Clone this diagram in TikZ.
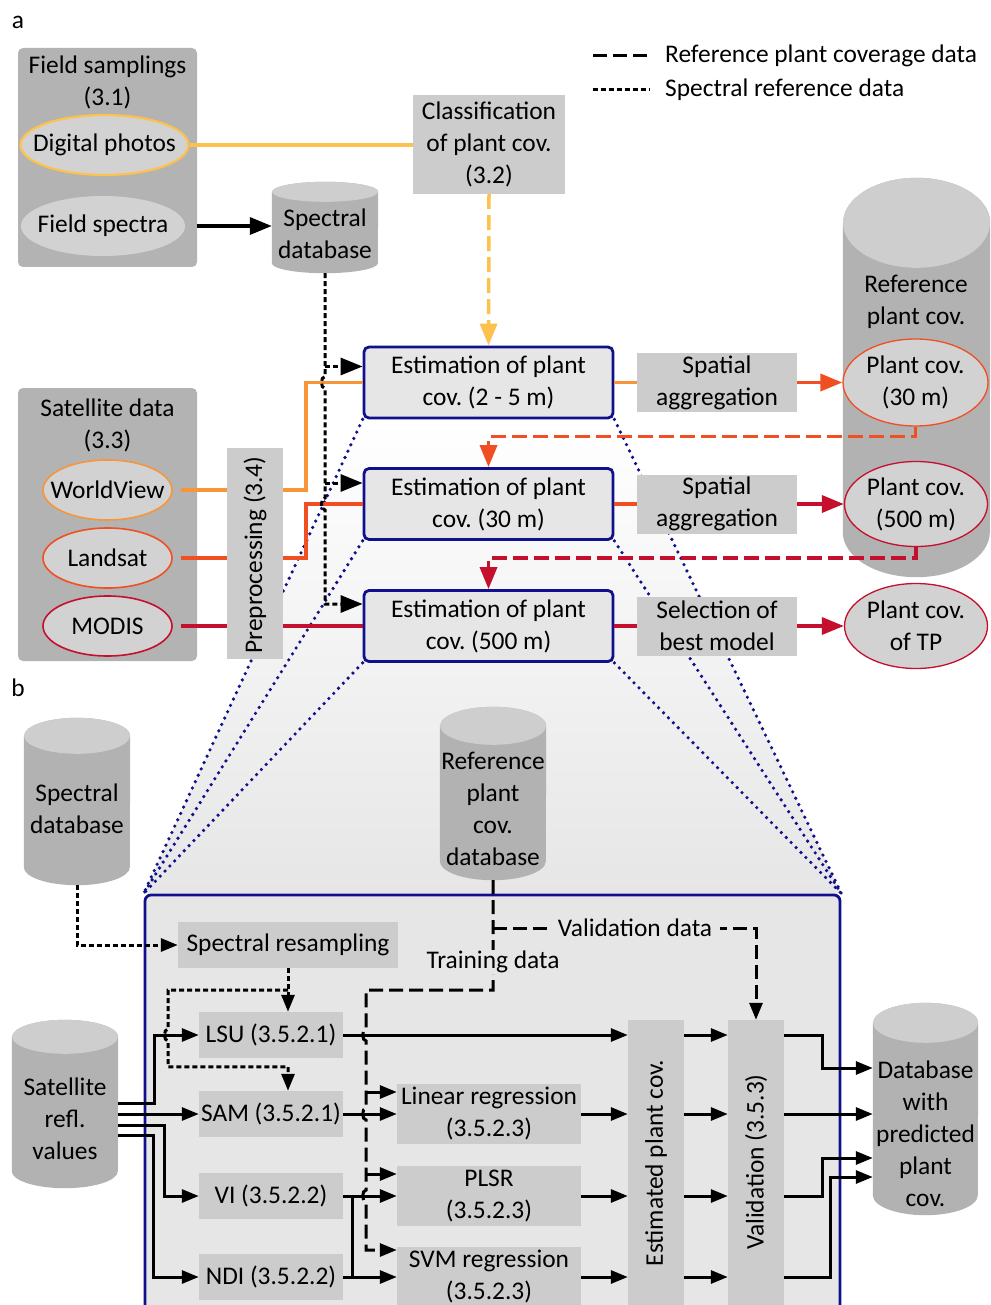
\documentclass[tikz,border=0pt]{standalone}
\usepackage{fontspec}
\setmainfont{Carlito}
\usetikzlibrary{arrows.meta,calc,shapes.geometric,backgrounds}
\frenchspacing

\definecolor{navy}{RGB}{16,16,140}
\definecolor{darkpanel}{RGB}{179,179,179}
\definecolor{lightbox}{RGB}{204,204,204}
\definecolor{ellfill}{RGB}{210,210,210}
\definecolor{estfill}{RGB}{230,230,230}
\definecolor{cylbody}{RGB}{178,178,178}
\definecolor{cyltop}{RGB}{206,206,206}
\definecolor{cyel}{RGB}{253,194,78}
\definecolor{corange}{RGB}{247,149,59}
\definecolor{cred}{RGB}{240,78,35}
\definecolor{ccrim}{RGB}{196,16,46}

\tikzset{
  txt/.style={inner sep=0pt, align=center},
  panel/.style={fill=darkpanel, rounded corners=5pt, inner sep=0pt},
  lbox/.style={fill=lightbox, inner sep=0pt, align=center},
  ebox/.style={draw=navy, line width=2.8pt, fill=estfill, rounded corners=5pt,
    minimum width=249pt, minimum height=71pt, inner sep=0pt, align=center},
  sat/.style={ellipse, fill=ellfill, line width=1.6pt, inner sep=-20pt, align=center},
  cylnode/.style={inner sep=0pt},
  blk/.style={draw=black, line width=3pt},
  refline/.style={draw=black, line width=3pt, dash pattern=on 14pt off 6pt},
  specline/.style={draw=black, line width=3pt, dash pattern=on 5pt off 3pt},
  ylw/.style={draw=cyel, line width=3.5pt},
  orl/.style={draw=corange, line width=3.5pt},
  rdl/.style={draw=cred, line width=3.5pt},
  crl/.style={draw=ccrim, line width=3.5pt},
  cdash/.style={dash pattern=on 15pt off 6pt},
  zoomline/.style={draw=navy, line width=3.6pt, line cap=round, dash pattern=on 0pt off 7pt},
  arr/.style={-{Triangle[length=17pt,width=13pt]}},
  bigarr/.style={-{Triangle[length=22pt,width=17pt]}},
}

% cylinder drawn round a named node: name, x radius, y radius
\newcommand{\dbcyl}[3]{%
  \fill[cylbody] ([yshift=-#3]#1.north west) -- ([yshift=#3]#1.south west)
    arc[start angle=180, end angle=360, x radius=#2, y radius=#3]
    -- ([yshift=-#3]#1.north east)
    arc[start angle=0, end angle=180, x radius=#2, y radius=#3] -- cycle;
  \fill[cyltop] ([yshift=-#3]#1.north) ellipse[x radius=#2, y radius=#3];
}

\begin{document}
\begin{tikzpicture}[x=1pt, y=-1pt, font=\fontsize{25.4}{32}\selectfont]
\useasboundingbox (0,0) rectangle (990,1305);
\clip (0,0) rectangle (990,1305);

\node[txt] (la) at (18,22) {a};
\node[txt] (lb) at (18,688) {b};

% legend
\node[txt, anchor=west] (leg1) at (665,56) {Reference plant coverage data};
\node[txt, anchor=west] (leg2) at (665,90) {Spectral reference data};
\draw[refline] ($(leg1.west)+(-72,0)$) -- ($(leg1.west)+(-15,0)$);
\draw[specline] ($(leg2.west)+(-72,0)$) -- ($(leg2.west)+(-15,0)$);

% field samplings
\node[panel, minimum width=179pt, minimum height=219pt] (fsamp) at (107.5,157.5) {};
\node[txt] (fsampt) at (107.5,82) {Field samplings\\(3.1)};
\node[sat, draw=cyel, line width=2.2pt, minimum width=168pt, minimum height=60pt] (dphoto) at (104.5,145) {Digital photos};
\node[sat, minimum width=164pt, minimum height=60pt] (fspec) at (103,226) {Field spectra};

\node[cylnode, minimum width=106pt, minimum height=91pt] (sdb) at (325,227.5) {};
\dbcyl{sdb}{53pt}{10pt}
\node[txt] (sdbt) at (325,234) {Spectral\\database};

\node[lbox, minimum width=152pt, minimum height=99pt] (classif) at (489,144.5) {Classification\\of plant cov.\\(3.2)};

% estimations
\node[ebox] (est1) at (488.5,382.5) {Estimation of plant\\cov. (2 - 5 m)};
\node[ebox] (est2) at (488.5,504) {Estimation of plant\\cov. (30 m)};
\node[ebox] (est3) at (488.5,626) {Estimation of plant\\cov. (500 m)};

\node[lbox, minimum width=160pt, minimum height=59pt] (agg1) at (717,382.5) {Spatial\\aggregation};
\node[lbox, minimum width=160pt, minimum height=59pt] (agg2) at (717,504) {Spatial\\aggregation};
\node[lbox, minimum width=160pt, minimum height=59pt] (best) at (717,626) {Selection of\\best model};

% reference plant cover
\node[cylnode, minimum width=147pt, minimum height=399pt] (refcyl) at (916.5,377.5) {};
\dbcyl{refcyl}{73.5pt}{45pt}
\node[txt] (refcylt) at (916,302) {Reference\\plant cov.};
\node[sat, draw=cred, line width=1.3pt, minimum width=145pt, minimum height=87pt] (pc30) at (915.5,382.5) {Plant cov.\\(30 m)};
\node[sat, draw=ccrim, line width=1.3pt, minimum width=143pt, minimum height=85pt] (pc500) at (916,504) {Plant cov.\\(500 m)};
\node[sat, draw=ccrim, line width=1.3pt, minimum width=143pt, minimum height=85pt] (pctp) at (916,626) {Plant cov.\\of TP};

% satellite data
\node[panel, minimum width=179pt, minimum height=273pt] (satp) at (107.5,524.5) {};
\node[txt] (satpt) at (107.5,425) {Satellite data\\(3.3)};
\node[sat, draw=corange, minimum width=129pt, minimum height=60pt] (wv) at (107.5,490) {WorldView};
\node[sat, draw=cred, minimum width=129pt, minimum height=60pt] (ls) at (107.5,558) {Landsat};
\node[sat, draw=ccrim, minimum width=129pt, minimum height=60pt] (modis) at (107.5,626) {MODIS};
\node[lbox, minimum width=56pt, minimum height=211pt] (prep) at (255,553.5) {};
\node[txt, rotate=90] (prept) at (255,555) {Preprocessing (3.4)};

% panel b
\node[cylnode, minimum width=106pt, minimum height=167pt] (sdb2) at (77,801.5) {};
\dbcyl{sdb2}{53pt}{18pt}
\node[txt] (sdb2t) at (77,809) {Spectral\\database};
\node[cylnode, minimum width=106pt, minimum height=173pt] (refdb) at (493,793.5) {};
\dbcyl{refdb}{53pt}{19pt}
\node[txt] (refdbt) at (493,809) {Reference\\plant\\cov.\\database};

\node[draw=navy, line width=2.8pt, fill=estfill, rounded corners=6pt, minimum width=695pt, minimum height=450pt] (pb) at (492.5,1120) {};

\node[lbox, minimum width=220pt, minimum height=46pt] (resamp) at (288,945) {Spectral resampling};
\node[lbox, minimum width=144pt, minimum height=46pt] (lsu) at (271,1035) {LSU (3.5.2.1)};
\node[lbox, minimum width=144pt, minimum height=46pt] (sam) at (271,1114) {SAM (3.5.2.1)};
\node[lbox, minimum width=144pt, minimum height=46pt] (vi) at (271,1196) {VI (3.5.2.2)};
\node[lbox, minimum width=144pt, minimum height=46pt] (ndi) at (271,1277) {NDI (3.5.2.2)};

\node[lbox, minimum width=184pt, minimum height=60pt] (lr) at (489,1114) {Linear regression\\(3.5.2.3)};
\node[lbox, minimum width=184pt, minimum height=60pt] (plsr) at (489,1196) {PLSR\\(3.5.2.3)};
\node[lbox, minimum width=184pt, minimum height=60pt] (svm) at (489,1277) {SVM regression\\(3.5.2.3)};

\node[lbox, minimum width=56pt, minimum height=290pt] (estc) at (656,1165) {};
\node[txt, rotate=90] (estct) at (656,1163) {Estimated plant cov.};
\node[lbox, minimum width=56pt, minimum height=290pt] (valid) at (756,1165) {};
\node[txt, rotate=90] (validt) at (756,1162) {Validation (3.5.3)};

\node[cylnode, minimum width=106pt, minimum height=168pt] (satcyl) at (65,1104) {};
\dbcyl{satcyl}{53pt}{17pt}
\node[txt] (satcylt) at (65,1119) {Satellite\\refl.\\values};

\node[cylnode, minimum width=105pt, minimum height=212pt] (dbout) at (925.5,1109) {};
\dbcyl{dbout}{52.5pt}{20pt}
\node[txt] (dboutt) at (925.5,1134) {Database\\with\\predicted\\plant\\cov.};

% zoom funnel
\begin{pgfonlayer}{background}
\shade[top color=white, bottom color=estfill] (est1.south west) -- (est1.south east) -- (pb.north east) -- (pb.north west) -- cycle;
\foreach \e in {est1,est2,est3} {
  \draw[zoomline] (\e.south west) -- (pb.north west);
  \draw[zoomline] (\e.south east) -- (pb.north east);
}
\end{pgfonlayer}

% panel a connectors
\draw[ylw] (dphoto.east) -- (classif.west |- dphoto.east);
\draw[ylw, cdash, bigarr] (classif.south) -- (est1.north);
\draw[blk, line width=3.5pt, bigarr] (fsamp.east |- fspec) -- (sdb.west |- fspec);

\draw[orl] ([xshift=8pt]wv.east) -- (prep.west |- wv.east);
\draw[orl] (prep.east |- wv.east) -- ++(23,0) |- (est1.west);
\draw[rdl] ([xshift=8pt]ls.east) -- (prep.west |- ls.east);
\draw[rdl] (prep.east |- ls.east) -- ++(23,0) |- (est2.west);
\draw[crl] ([xshift=8pt]modis.east) -- (prep.west |- modis.east);
\draw[crl] (prep.east |- modis.east) -- (est3.west);

\draw[orl] (est1.east) -- (agg1.west);
\draw[rdl, bigarr] (agg1.east) -- (pc30.west);
\draw[rdl] (est2.east) -- (agg2.west);
\draw[crl, bigarr] (agg2.east) -- (pc500.west);
\draw[crl] (est3.east) -- (best.west);
\draw[crl, bigarr] (best.east) -- (pctp.west);

\draw[rdl, cdash, bigarr] (pc30.south) -- ++(0,10) -| (est2.north);
\draw[crl, cdash, bigarr] (pc500.south) -- ++(0,11) -| (est3.north);

\coordinate (d1) at ([yshift=16pt]est1.west);
\coordinate (d2) at ([yshift=21pt]est2.west);
\coordinate (d3) at ([yshift=22pt]est3.west);
\coordinate (h1) at (sdb.south |- est1.west);
\coordinate (h2) at (sdb.south |- est2.west);
\draw[specline, bigarr] (sdb.south) -- ([yshift=6pt]h1) to[out=180,in=180] ([yshift=-6pt]h1)
  -- ([yshift=6pt]h2) to[out=180,in=180] ([yshift=-6pt]h2) |- (d3);
\draw[specline, bigarr] (sdb.south |- d1) -- (d1);
\draw[specline, bigarr] (sdb.south |- d2) -- (d2);

% panel b connectors
\draw[specline, arr] (sdb2.south) |- (resamp.west);
\draw[specline, arr] (resamp.south) -- (resamp.south |- lsu.north);
\coordinate (r1) at ($(resamp.south)!0.5!(resamp.south |- lsu.north)$);
\coordinate (r2) at ($(resamp.south |- sam.north)+(0,-24)$);
\coordinate (rv) at ($(r1)+(-120,0)$);
\coordinate (h4) at (rv |- lsu.west);
\draw[specline, arr] (r1) -- (rv) -- ([yshift=6pt]h4) to[out=180,in=180] ([yshift=-6pt]h4)
  |- (r2) -- (resamp.south |- sam.north);

\coordinate (s2) at (satcyl.east |- sam.west);
\draw[blk, arr] ($(s2)+(0,-11)$) -- ++(36,0) |- (lsu.west);
\draw[blk, arr] (s2) -- (sam.west);
\draw[blk, arr] ($(s2)+(0,11)$) -- ++(46,0) |- (vi.west);
\draw[blk, arr] ($(s2)+(0,21)$) -- ++(35,0) |- (ndi.west);

\draw[blk, arr] (lsu.east) -- (lsu.east -| estc.west);
\draw[blk, arr] (sam.east) -- (lr.west);
\draw[blk, arr] (vi.east) -- (plsr.west);
\draw[blk] ($(vi.east)+(9,0)$) -- ($(ndi.east)+(9,0)$);
\draw[blk, arr] (ndi.east) -- (svm.west);

\draw[blk, arr] (lr.east) -- (lr.east -| estc.west);
\draw[blk, arr] (plsr.east) -- (plsr.east -| estc.west);
\draw[blk, arr] (svm.east) -- (svm.east -| estc.west);
\foreach \row in {lsu,lr,plsr,svm}
  \draw[blk, arr] (estc.east |- \row.east) -- (valid.west |- \row.east);

\draw[blk, arr] (valid.east |- lsu.east) -- ++(38,0) |- ($(dbout.west |- lsu.east)+(0,33)$);
\draw[blk, arr] (valid.east |- lr.east) -- (dbout.west |- lr.east);
\draw[blk, arr] (valid.east |- plsr.east) -- ++(38,0) |- ($(dbout.west |- plsr.east)+(0,-38)$);
\draw[blk, arr] (valid.east |- svm.east) -- ++(46,0) |- ($(dbout.west |- svm.east)+(0,-100)$);

% training and validation data
\coordinate (tv) at ($(lsu.east)+(23,0)$);
\coordinate (tr) at ($(refdb.south)+(0,110)$);
\coordinate (tc) at (tv |- tr);
\coordinate (hb) at (tv |- sam.east);
\coordinate (hc) at (tv |- vi.east);
\coordinate (tlr) at ([yshift=22pt]lr.west);
\coordinate (tpl) at ([yshift=22pt]plsr.west);
\coordinate (tsv) at ([yshift=27pt]svm.west);
\draw[refline, arr] (refdb.south) -- (tr) -- (tc) -- ([yshift=6pt]tv) to[out=180,in=180] ([yshift=-6pt]tv)
  -- ([yshift=6pt]hb) to[out=180,in=180] ([yshift=-6pt]hb)
  -- ([yshift=6pt]hc) to[out=180,in=180] ([yshift=-6pt]hc) |- (tsv);
\draw[refline, arr] (tv |- tlr) -- (tlr);
\draw[refline, arr] (tv |- tpl) -- (tpl);
\node[txt, fill=estfill, inner xsep=2pt, inner ysep=1pt] (trl) at (493,962) {Training data};

\coordinate (vj) at ($(refdb.south)+(0,48)$);
\draw[refline, arr] (vj) -| (valid.north)
  node[txt, pos=0.27, fill=estfill, inner xsep=8pt, inner ysep=2pt] (vlab) {Validation data};
\end{tikzpicture}
\end{document}
